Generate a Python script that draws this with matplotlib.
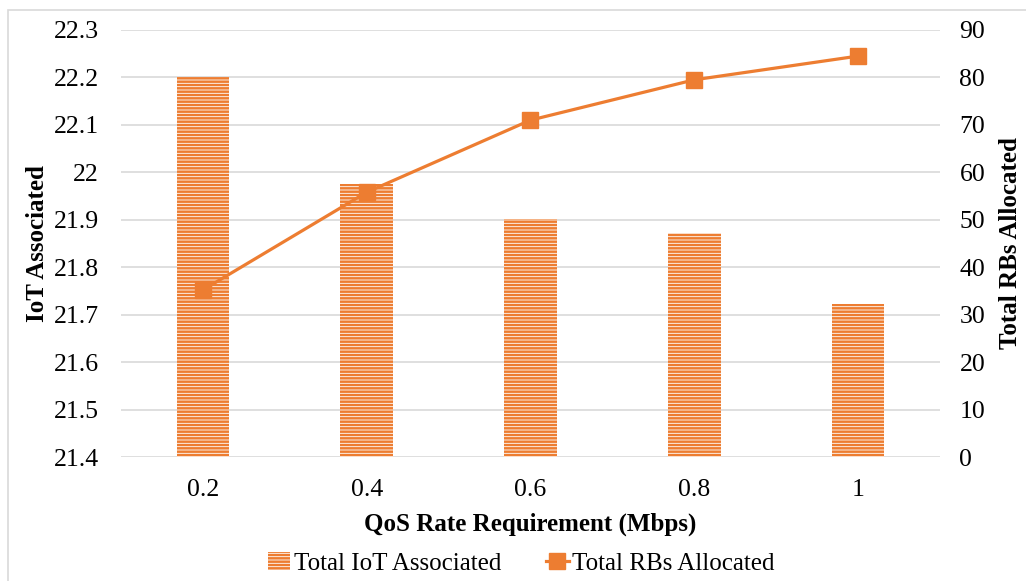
import matplotlib.pyplot as plt
from matplotlib.patches import Rectangle, Patch
from matplotlib.lines import Line2D

plt.rcParams['font.family'] = ['Liberation Serif', 'DejaVu Serif']
plt.rcParams['hatch.linewidth'] = 1.8

qos = ['0.2', '0.4', '0.6', '0.8', '1']
iot_associated = [22.2, 21.975, 21.902, 21.872, 21.723]
rbs_allocated = [35.2, 55.8, 71.0, 79.5, 84.5]

orange = '#ED7D31'
grid_col = '#D9D9D9'

fig = plt.figure(figsize=(10.26, 5.81), dpi=100)
ax = fig.add_axes([0.1179, 0.2134, 0.7983, 0.735])
ax2 = ax.twinx()

x = range(len(qos))
ax.bar(x, iot_associated, width=0.32, color='white', edgecolor=orange,
       hatch='-----', linewidth=0, zorder=2)
ax.set_ylim(21.4, 22.3)
ax.set_yticks([21.4 + 0.1 * i for i in range(10)])
ax.set_yticklabels(['21.4', '21.5', '21.6', '21.7', '21.8', '21.9', '22',
                    '22.1', '22.2', '22.3'])
ax.set_xlim(-0.5, len(qos) - 0.5)
ax.set_xticks(list(x))
ax.set_xticklabels(qos)
ax.yaxis.grid(True, color=grid_col, linewidth=1.2, zorder=0)
ax.set_axisbelow(True)

ax2.plot(x, rbs_allocated, color=orange, linewidth=2.3, marker='s',
         markersize=12, zorder=3)
ax2.set_ylim(0, 90)
ax2.set_yticks(range(0, 91, 10))

for a in (ax, ax2):
    for s in a.spines.values():
        s.set_visible(False)
    a.tick_params(length=0, labelsize=18.5, colors='#000000')
ax.tick_params(axis='y', pad=16)
ax.tick_params(axis='x', pad=16)
ax2.tick_params(axis='y', pad=14)

ax.set_ylabel('IoT Associated', fontsize=18, fontweight='bold', labelpad=3)
ax2.set_ylabel('Total RBs Allocated', fontsize=18, fontweight='bold', labelpad=10)
ax.set_xlabel('QoS Rate Requirement (Mbps)', fontsize=18, fontweight='bold',
              labelpad=8)

handles = [
    Patch(facecolor='white', edgecolor=orange, hatch='-----', linewidth=0,
          label='Total IoT Associated'),
    Line2D([], [], color=orange, linewidth=2.3, marker='s', markersize=12,
           label='Total RBs Allocated'),
]
fig.legend(handles=handles, loc='center', bbox_to_anchor=(0.508, 0.03),
           ncol=2, frameon=False, fontsize=18, handlelength=0.9,
           handletextpad=0.15, columnspacing=1.8)

# thin outline around the chart area
fig.patches.append(Rectangle((8 / 1026, -0.05), 1.2, 1.05 - 10 / 581,
                             transform=fig.transFigure, fill=False,
                             edgecolor=grid_col, linewidth=1.2))

fig.savefig('out.png', dpi=100)
